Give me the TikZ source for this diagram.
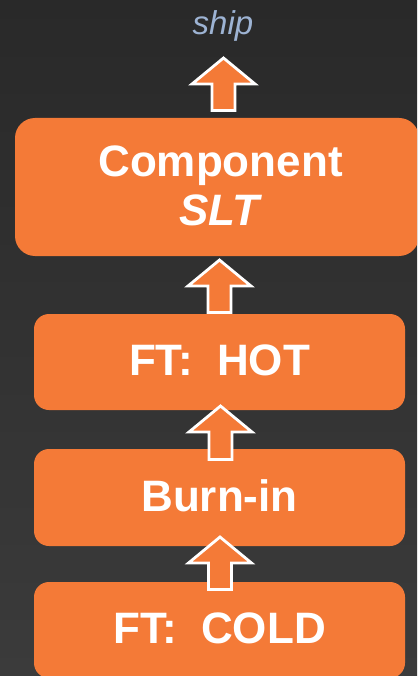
\documentclass[tikz,border=0pt]{standalone}
\usepackage{fontspec}
\setmainfont{Liberation Sans}
\usetikzlibrary{calc}
\definecolor{bgtop}{HTML}{292929}
\definecolor{bgbot}{HTML}{3B3B3B}
\definecolor{flow}{HTML}{F47A37}
\definecolor{shiptxt}{HTML}{9DB3D3}
\tikzset{
  stage/.style={draw=none, fill=flow, rounded corners=15pt, inner sep=0pt,
    minimum width=371pt, minimum height=96pt, text=white,
    font=\bfseries\fontsize{44}{48}\selectfont, text height=31.5pt, text depth=4pt},
  bigstage/.style={stage, rounded corners=20pt, minimum width=404pt, minimum height=138pt},
  stagetext/.style={anchor=base, inner sep=0pt, text=white,
    font=\bfseries\fontsize{44}{48}\selectfont},
  blockarrow/.style={fill=flow, draw=white, line width=2.8pt, line join=miter},
}
% block arrow pointing up: #1 = tip, #2 = centre of the shaft's lower end
\newcommand\upblock[2]{%
  \draw[blockarrow] (#1) -- ++(31.5,26) -- ++(-20,0) -- ($(#2)+(11.5,0)$)
    -- ($(#2)+(-11.5,0)$) -- ($(#1)+(-11.5,26)$) -- ++(-20,0) -- cycle;}
\begin{document}
\begin{tikzpicture}[x=1pt,y=-1pt]
  \useasboundingbox (0,0) rectangle (417,676);
  \clip (0,0) rectangle (417,676);
  \fill[top color=bgtop, bottom color=bgbot] (0,0) rectangle (417,676);

  % process stages
  \node[bigstage] (comp) at (217,187) {};
  \node[stagetext] (comp1) at (220.5,177) {Component};
  \node[stagetext] (comp2) at (220.5,225) {\textit{SLT}};
  \node[stage] (hot)  at (219.5,362)   {\frenchspacing FT:\ \ HOT};
  \node[stage, minimum height=97pt] (burn) at (219.5,497.5) {Burn-in};
  \node[stage] (cold) at (219.5,630)   {\frenchspacing FT:\ \ COLD};

  % final step
  \node[anchor=base, inner sep=0pt, text=shiptxt,
        font=\itshape\fontsize{33}{38}\selectfont] (ship) at (223,35) {ship};

  % flow arrows between the stages
  \coordinate (a1t) at (223.5,58);  \coordinate (a1f) at (223.5,110.5);
  \coordinate (a2t) at (219.5,260); \coordinate (a2f) at (219.5,312.5);
  \coordinate (a3t) at (220.5,406); \coordinate (a3f) at (220.5,459.5);
  \coordinate (a4t) at (220,537);   \coordinate (a4f) at (220,589.5);
  \upblock{a1t}{a1f}
  \upblock{a2t}{a2f}
  \upblock{a3t}{a3f}
  \upblock{a4t}{a4f}
\end{tikzpicture}
\end{document}
